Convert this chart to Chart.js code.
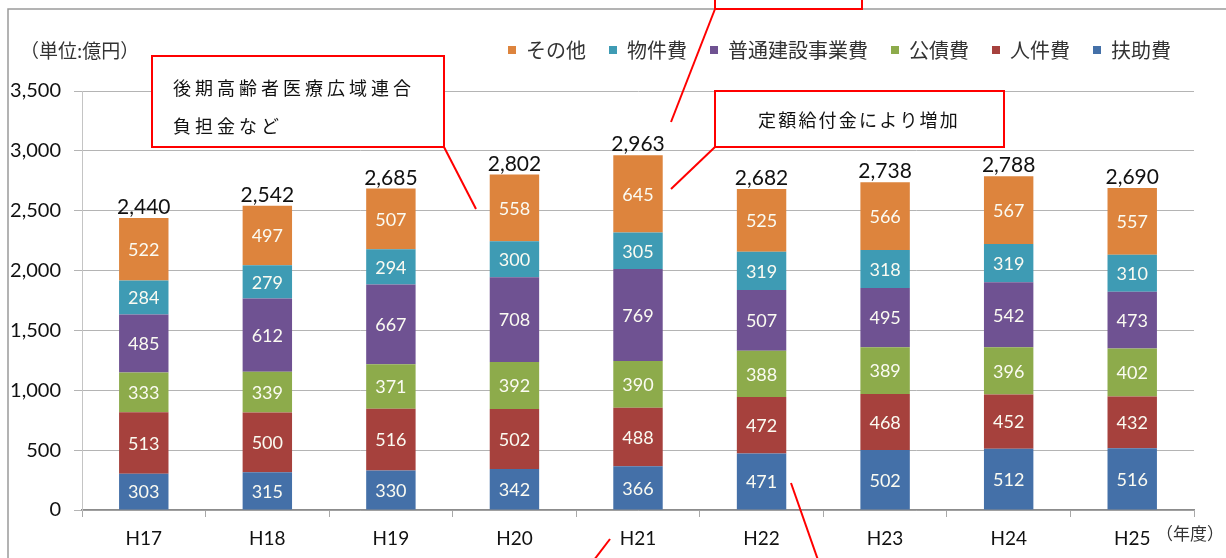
<!DOCTYPE html>
<html>
<head>
<meta charset="utf-8">
<script src="https://cdn.jsdelivr.net/npm/chart.js@4.4.1/dist/chart.umd.min.js"></script>
<style>
  html, body { margin: 0; padding: 0; background: #fff; }
  #wrap { width: 1226px; height: 558px; position: relative; }
</style>
</head>
<body>
<div id="wrap"><canvas id="myChart"></canvas></div>
<script>
// 年度
const years = ['H17', 'H18', 'H19', 'H20', 'H21', 'H22', 'H23', 'H24', 'H25'];

// 各費目（億円）
const fujo = [303, 315, 330, 342, 366, 471, 502, 512, 516];        // 扶助費
const jinken = [513, 500, 516, 502, 488, 472, 468, 452, 432];      // 人件費
const kousai = [333, 339, 371, 392, 390, 388, 389, 396, 402];      // 公債費
const futsuKensetsu = [485, 612, 667, 708, 769, 507, 495, 542, 473]; // 普通建設事業費
const bukken = [284, 279, 294, 300, 305, 319, 318, 319, 310];      // 物件費
const sonota = [522, 497, 507, 558, 645, 525, 566, 567, 557];      // その他

// 合計ラベル
const totals = [2440, 2542, 2685, 2802, 2963, 2682, 2738, 2788, 2690];

const yMax = 3500;
const yStep = 500;

const NUM_FONT = 'Lato, "Open Sans", sans-serif';
const JP_FONT = '"Noto Sans CJK JP", "Noto Sans", sans-serif';

// 吹き出し（赤枠）
const callouts = [
  { box: [152, 56, 292, 91], lines: [['後期高齢者医療広域連合', 173, 88, 22], ['負担金など', 173, 126, 22]] },
  { box: [715, -20, 147, 29], lines: [] },
  { box: [715, 91, 289, 56], lines: [['定額給付金により増加', 758, 120, 20.2]] }
];
const leaders = [
  [444, 147, 476, 209],
  [715, 9, 671, 122],
  [715, 147, 671, 189],
  [610, 539, 594, 560],
  [791, 483, 818, 560]
];

const fmt = (v) => v.toLocaleString('en-US');

const chartDecor = {
  id: 'chartDecor',
  beforeDraw(chart) {
    const c = chart.ctx;
    c.save();
    c.fillStyle = '#fff';
    c.fillRect(0, 0, chart.width, chart.height);
    // 外枠
    c.strokeStyle = '#9a9a9a';
    c.lineWidth = 1.5;
    c.beginPath();
    c.moveTo(8, chart.height);
    c.lineTo(8, 9);
    c.lineTo(chart.width, 9);
    c.stroke();
    c.restore();
  },
  afterDatasetsDraw(chart) {
    const c = chart.ctx;
    const x = chart.scales.x;
    const y = chart.scales.y;
    c.save();
    c.textAlign = 'center';
    c.textBaseline = 'middle';
    c.font = '18px ' + NUM_FONT;
    c.fillStyle = '#fbfbf2';
    chart.data.datasets.forEach((ds, di) => {
      const meta = chart.getDatasetMeta(di);
      meta.data.forEach((bar, i) => {
        const mid = (bar.y + bar.base) / 2;
        c.fillText(fmt(ds.data[i]), bar.x, mid + 1);
      });
    });
    // 合計
    c.font = '21px ' + NUM_FONT;
    c.fillStyle = '#111';
    c.textBaseline = 'alphabetic';
    totals.forEach((t, i) => {
      c.fillText(fmt(t), x.getPixelForValue(i), y.getPixelForValue(t) - 4);
    });
    // 単位・年度
    c.font = '19px ' + JP_FONT;
    c.fillStyle = '#333';
    c.textAlign = 'left';
    c.textBaseline = 'middle';
    c.fillText('（単位:億円）', 20, 51);
    c.font = '17px ' + JP_FONT;
    c.fillText('（年度）', 1156, 534);
    c.restore();
  },
  afterDraw(chart) {
    const c = chart.ctx;
    c.save();
    c.strokeStyle = '#ff0000';
    c.lineWidth = 2;
    leaders.forEach(([x1, y1, x2, y2]) => {
      c.beginPath();
      c.moveTo(x1, y1);
      c.lineTo(x2, y2);
      c.stroke();
    });
    c.font = '18px ' + JP_FONT;
    c.textBaseline = 'middle';
    c.textAlign = 'left';
    callouts.forEach((co) => {
      const [bx, by, bw, bh] = co.box;
      c.fillStyle = '#fff';
      c.fillRect(bx, by, bw, bh);
      c.strokeRect(bx, by, bw, bh);
      c.fillStyle = '#111';
      co.lines.forEach(([txt, tx, ty, step]) => {
        [...txt].forEach((ch, k) => c.fillText(ch, tx + k * step, ty));
      });
    });
    c.restore();
  }
};

const ctx = document.getElementById('myChart');
new Chart(ctx, {
  type: 'bar',
  data: {
    labels: years,
    datasets: [
      { label: '扶助費', data: fujo, backgroundColor: '#4470a8' },
      { label: '人件費', data: jinken, backgroundColor: '#a6413d' },
      { label: '公債費', data: kousai, backgroundColor: '#8dab4b' },
      { label: '普通建設事業費', data: futsuKensetsu, backgroundColor: '#6f5292' },
      { label: '物件費', data: bukken, backgroundColor: '#3e9bb4' },
      { label: 'その他', data: sonota, backgroundColor: '#dd843d' }
    ]
  },
  options: {
    responsive: true,
    maintainAspectRatio: false,
    animation: false,
    devicePixelRatio: 1,
    datasets: {
      bar: { barPercentage: 0.4, categoryPercentage: 1.0, borderWidth: 0 }
    },
    layout: { padding: { top: 17, right: 32, left: 0, bottom: 0 } },
    plugins: {
      legend: {
        position: 'top',
        align: 'end',
        reverse: true,
        labels: {
          boxWidth: 8,
          boxHeight: 8,
          padding: 23,
          color: '#333',
          font: { family: JP_FONT, size: 20 }
        }
      },
      // 凡例とグラフの間の余白
      subtitle: {
        display: true,
        text: '',
        position: 'top',
        weight: 500,
        padding: 0,
        font: { size: 21, lineHeight: 1 }
      },
      tooltip: { enabled: false }
    },
    scales: {
      x: {
        stacked: true,
        grid: {
          display: true,
          drawOnChartArea: false,
          drawTicks: true,
          tickLength: 7,
          color: '#a8a8a8',
          offset: true
        },
        border: { display: true, color: '#8c8c8c', width: 1.5 },
        ticks: {
          color: '#111',
          padding: 10,
          font: { family: NUM_FONT, size: 19 }
        },
        afterFit: (s) => { s.height = 48; }
      },
      y: {
        stacked: true,
        min: 0,
        max: yMax,
        grid: { color: '#b4b4b4', lineWidth: 1, tickLength: 8 },
        border: { display: true, color: '#c4c4c4' },
        ticks: {
          stepSize: yStep,
          color: '#111',
          padding: 13,
          font: { family: NUM_FONT, size: 20 },
          callback: (v) => fmt(v)
        },
        afterFit: (s) => { s.width = 82; }
      }
    }
  },
  plugins: [chartDecor]
});
</script>
</body>
</html>
